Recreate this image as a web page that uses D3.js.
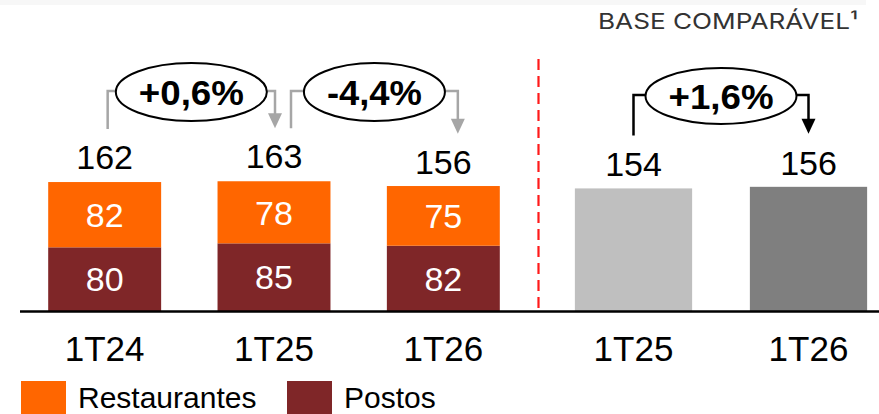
<!DOCTYPE html>
<html>
<head>
<meta charset="utf-8">
<script src="https://cdn.jsdelivr.net/npm/d3@7"></script>
<style>
  html, body { margin: 0; padding: 0; background: #fff; }
  svg { display: block; font-family: 'Liberation Sans', Arial, sans-serif; }
</style>
</head>
<body>
<svg id="chart" width="879" height="414"></svg>
<script>
'use strict'

// reported periods (stacked)
const periods = ['1T24', '1T25', '1T26']
const restaurantes = [82, 78, 75]
const postos = [80, 85, 82]
const totals = [162, 163, 156] // as published (rounded)

// comparable base
const basePeriods = ['1T25', '1T26']
const baseValues = [154, 156]

// variation bubbles: [group, fromIndex, toIndex, label]
const variations = [
  ['left', 0, 1, '+0,6%'],
  ['left', 1, 2, '-4,4%'],
  ['right', 0, 1, '+1,6%']
]

const legendLabels = ['Restaurantes', 'Postos']
const baseTitle = 'BASE COMPARÁVEL¹'

const colors = {
  restaurantes: '#ff6600',
  postos: '#7f2628',
  base: ['#bfbfbf', '#7f7f7f']
}

const svg = d3.select('#chart')
const baseline = 311

const y = d3.scaleLinear().domain([0, 200]).range([baseline, 151.8])

const xLeft = d3.scaleBand().domain(periods).range([20, 528])
  .paddingInner(0.333).paddingOuter(0.1665)
const xRight = d3.scaleBand().domain(basePeriods).range([546, 896])
  .paddingInner(0.33).paddingOuter(0.165)

// faint strip at the top
svg.append('rect')
  .attr('x', 0).attr('y', 0).attr('width', 866).attr('height', 5)
  .attr('fill', '#f7f7f7')

svg.append('text')
  .attr('x', 598).attr('y', 29)
  .attr('font-family', 'Inter, "Open Sans", sans-serif')
  .attr('font-size', 22)
  .attr('fill', '#333')
  .attr('textLength', 260)
  .attr('lengthAdjust', 'spacingAndGlyphs')
  .text(baseTitle)

// stacked bars
const stackData = periods.map((p, i) => ({ period: p, postos: postos[i], restaurantes: restaurantes[i] }))
const series = d3.stack().keys(['postos', 'restaurantes'])(stackData)

const gLeft = svg.append('g')

series.forEach(s => {
  gLeft.selectAll('.bar-' + s.key)
    .data(s)
    .enter().append('rect')
    .attr('class', 'bar-' + s.key)
    .attr('x', d => xLeft(d.data.period))
    .attr('y', d => y(d[1]))
    .attr('width', xLeft.bandwidth())
    .attr('height', d => y(d[0]) - y(d[1]))
    .attr('fill', colors[s.key])

  gLeft.selectAll('.val-' + s.key)
    .data(s)
    .enter().append('text')
    .attr('class', 'val-' + s.key)
    .attr('x', d => xLeft(d.data.period) + xLeft.bandwidth() / 2)
    .attr('y', d => (y(d[0]) + y(d[1])) / 2)
    .attr('dy', '0.36em')
    .attr('text-anchor', 'middle')
    .attr('font-size', 34)
    .attr('fill', '#fff')
    .text(d => d[1] - d[0])
})

gLeft.selectAll('.total')
  .data(periods)
  .enter().append('text')
  .attr('class', 'total')
  .attr('x', d => xLeft(d) + xLeft.bandwidth() / 2)
  .attr('y', (d, i) => y(totals[i]) - 13)
  .attr('text-anchor', 'middle')
  .attr('font-size', 34)
  .attr('fill', '#000')
  .text((d, i) => totals[i])

// comparable base bars
const gRight = svg.append('g')

gRight.selectAll('.base')
  .data(basePeriods)
  .enter().append('rect')
  .attr('class', 'base')
  .attr('x', d => xRight(d))
  .attr('y', (d, i) => y(baseValues[i]))
  .attr('width', xRight.bandwidth())
  .attr('height', (d, i) => baseline - y(baseValues[i]))
  .attr('fill', (d, i) => colors.base[i])

gRight.selectAll('.total')
  .data(basePeriods)
  .enter().append('text')
  .attr('class', 'total')
  .attr('x', d => xRight(d) + xRight.bandwidth() / 2)
  .attr('y', (d, i) => y(baseValues[i]) - 12)
  .attr('text-anchor', 'middle')
  .attr('font-size', 34)
  .attr('fill', '#000')
  .text((d, i) => baseValues[i])

// axes (labels only, plus the baseline)
svg.append('g')
  .attr('transform', 'translate(0,' + baseline + ')')
  .call(d3.axisBottom(xLeft).tickSize(0).tickPadding(0))
  .call(g => g.select('.domain').remove())
svg.append('g')
  .attr('transform', 'translate(0,' + baseline + ')')
  .call(d3.axisBottom(xRight).tickSize(0).tickPadding(0))
  .call(g => g.select('.domain').remove())
svg.selectAll('.tick text')
  .attr('y', 50)
  .attr('dy', 0)
  .attr('font-size', 35)
  .attr('font-family', '"Liberation Sans", Arial, sans-serif')
  .attr('fill', '#000')

svg.append('line')
  .attr('x1', 20).attr('x2', 879)
  .attr('y1', baseline + 0.5).attr('y2', baseline + 0.5)
  .attr('stroke', '#000').attr('stroke-width', 2.5)

// divider
svg.append('line')
  .attr('x1', 538.5).attr('x2', 538.5)
  .attr('y1', 59).attr('y2', baseline)
  .attr('stroke', '#ff1a1a').attr('stroke-width', 2.2)
  .attr('stroke-dasharray', '11,6')

// variation bubbles
const centerOf = (group, i) => group === 'left'
  ? xLeft(periods[i]) + xLeft.bandwidth() / 2
  : xRight(basePeriods[i]) + xRight.bandwidth() / 2
const totalOf = (group, i) => group === 'left' ? totals[i] : baseValues[i]

const bubbleShift = { '+0,6%': [3, 1], '-4,4%': [17, 14.5], '+1,6%': [0, 0] }

variations.forEach(([group, from, to, label]) => {
  const color = group === 'left' ? '#a6a6a6' : '#000'
  const x0 = centerOf(group, from) + bubbleShift[label][0]
  const x1 = centerOf(group, to) + bubbleShift[label][1]
  const cy = group === 'left' ? 92 : 96
  const yLine = cy - 1
  const yStart = y(totalOf(group, from)) - 53
  const yTip = y(totalOf(group, to)) - 53
  const g = svg.append('g')

  g.append('path')
    .attr('d', 'M' + x0 + ',' + yStart + 'V' + yLine + 'H' + x1 + 'V' + (yTip - 14))
    .attr('fill', 'none')
    .attr('stroke', color)
    .attr('stroke-width', 2.5)

  g.append('path')
    .attr('d', 'M' + (x1 - 7) + ',' + (yTip - 15) + 'L' + (x1 + 7) + ',' + (yTip - 15) + 'L' + x1 + ',' + yTip + 'Z')
    .attr('fill', color)

  const cx = (x0 + x1) / 2
  const ell = g.append('ellipse')
    .attr('cx', cx).attr('cy', cy)
    .attr('ry', group === 'left' ? 29 : 28)
    .attr('fill', '#fff')
    .attr('stroke', '#000')
    .attr('stroke-width', 2)

  const txt = g.append('text')
    .attr('x', cx).attr('y', cy)
    .attr('dy', '0.36em')
    .attr('text-anchor', 'middle')
    .attr('font-size', 35)
    .attr('font-weight', 'bold')
    .attr('fill', '#000')
    .text(label)

  const w = label.startsWith('-') ? 95 : 105
  txt.attr('textLength', w).attr('lengthAdjust', 'spacingAndGlyphs')
  ell.attr('rx', w / 2 + 23)
})

// legend
const legend = svg.append('g')
const legendX = [21, 287]
legendLabels.forEach((label, i) => {
  legend.append('rect')
    .attr('x', legendX[i]).attr('y', 381)
    .attr('width', 45).attr('height', 33)
    .attr('fill', i === 0 ? colors.restaurantes : colors.postos)
  legend.append('text')
    .attr('x', legendX[i] + 57).attr('y', 408)
    .attr('font-size', 30)
    .attr('fill', '#000')
    .text(label)
})
</script>
</body>
</html>
